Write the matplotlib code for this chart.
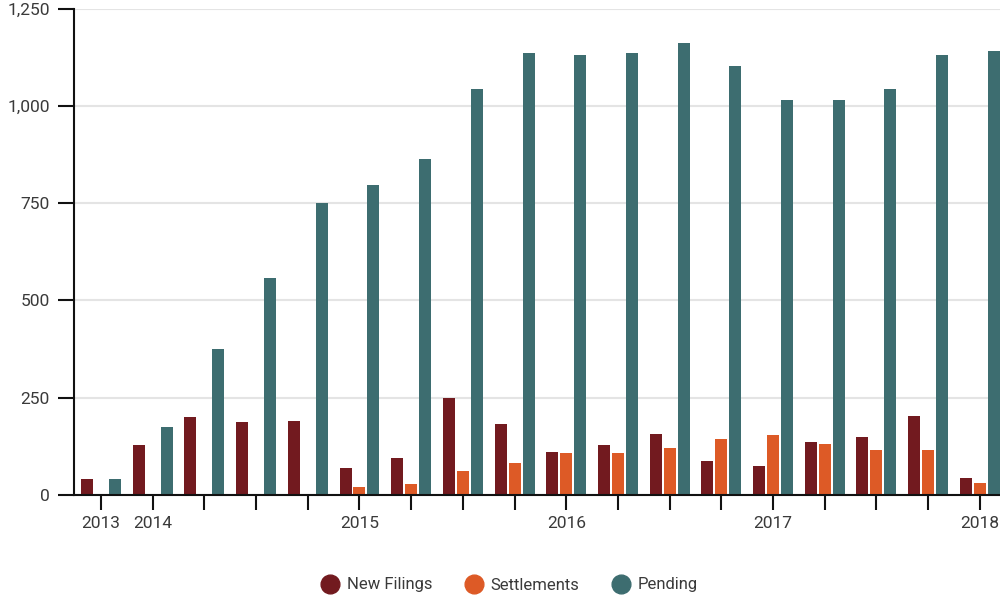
import numpy as np
import matplotlib
matplotlib.use("Agg")
import matplotlib.pyplot as plt
from matplotlib.lines import Line2D
from matplotlib.ticker import FuncFormatter

plt.rcParams['font.family'] = ['Roboto', 'DejaVu Sans']

# quarterly counts, Q4 2013 through Q1 2018
quarters = ['2013', '2014', '', '', '', '2015', '', '', '', '2016', '', '', '',
            '2017', '', '', '', '2018']
new_filings = [40, 128, 200, 187, 190, 69, 95, 249, 182, 110, 128, 156,
               87, 74, 136, 149, 203, 43]
settlements = [0, 0, 0, 0, 2, 20, 27, 61, 82, 107, 107, 120,
               143, 154, 130, 115, 115, 30]
pending = [40, 174, 375, 558, 749, 797, 864, 1044, 1137, 1132, 1137, 1163,
           1103, 1016, 1016, 1044, 1132, 1142]

c_new = '#721a1f'
c_settle = '#dd5a26'
c_pend = '#3d6d70'
txt = '#3a3a3a'

fig = plt.figure(figsize=(10, 6), dpi=100)
ax = fig.add_axes([0.074, 0.1755, 0.926, 0.81])

x = np.arange(len(quarters))
w = 0.232
off = 0.27
ax.bar(x - off, new_filings, w, color=c_new, zorder=3)
ax.bar(x, settlements, w, color=c_settle, zorder=3)
ax.bar(x + off, pending, w, color=c_pend, zorder=3)

ax.set_xlim(-0.522, 17.39)
ax.set_ylim(0, 1250)
ax.set_yticks([0, 250, 500, 750, 1000, 1250])
ax.yaxis.set_major_formatter(FuncFormatter(lambda v, p: f'{int(v):,}'))
ax.set_xticks(x)
ax.set_xticklabels(quarters)

ax.grid(axis='y', color='#e4e4e4', linewidth=1.5, zorder=0)
for s in ['top', 'right']:
    ax.spines[s].set_visible(False)
for s in ['left', 'bottom']:
    ax.spines[s].set_color('#111111')
    ax.spines[s].set_linewidth(1.5)
ax.spines['bottom'].set_zorder(4)

ax.tick_params(axis='y', length=11.5, width=1.5, color='#111111',
               labelsize=12.5, labelcolor=txt, pad=6)
ax.tick_params(axis='x', length=11, width=1.5, color='#111111',
               labelsize=12.5, labelcolor=txt, pad=4)

handles = [Line2D([], [], marker='o', linestyle='', markersize=13.5,
                  markerfacecolor=c, markeredgecolor=c)
           for c in (c_new, c_settle, c_pend)]
fig.legend(handles, ['New Filings', 'Settlements', 'Pending'],
           loc='center', bbox_to_anchor=(0.51, 0.025), ncol=3, frameon=False,
           fontsize=12, labelcolor=txt, handlelength=1.0, handletextpad=0.5,
           columnspacing=2.0)

fig.savefig('out.png', dpi=100)
